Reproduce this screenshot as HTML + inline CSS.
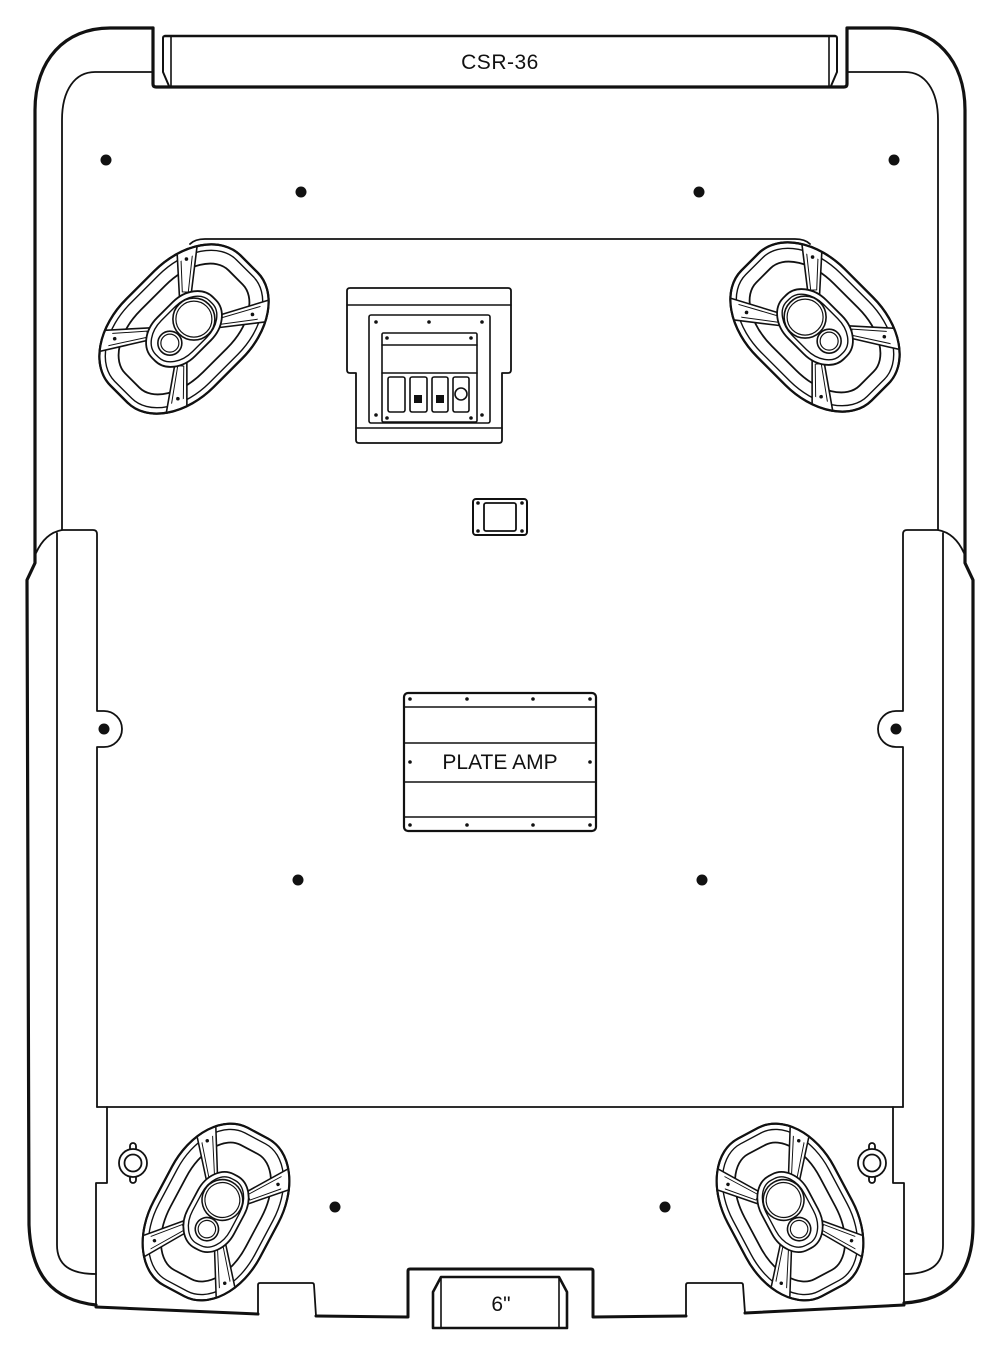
<!DOCTYPE html>
<html><head><meta charset="utf-8"><style>
html,body{margin:0;padding:0;background:#fff}
svg{display:block}
text{font-family:"Liberation Sans",sans-serif;fill:#111}
</style></head><body>
<svg width="1000" height="1355" viewBox="0 0 1000 1355" xmlns="http://www.w3.org/2000/svg">
<defs>
<clipPath id="co"><rect x="-91" y="-61" width="182" height="122" rx="71" ry="49"/></clipPath>
<clipPath id="ci"><rect x="-84" y="-54" width="168" height="108" rx="64" ry="42"/></clipPath>
</defs>
<g fill="none" stroke="#111" stroke-linejoin="round" stroke-linecap="round">
<path stroke-width="3.2" d="M153,28 L153,84 Q153,87 156,87 L844,87 Q847,87 847,84 L847,28 L890,28 C935,28 965,60 965,110 L965,563 L973,580 L973,1225 C973,1275 950,1300 904,1303"/>
<path stroke-width="3.2" d="M153,28 L110,28 C65,28 35,60 35,110 L35,563 L27,580 L29,1225 C31,1275 52,1300 96,1305"/>
<path stroke-width="1.8" d="M153,72 L95,72 C75,72 62,90 62,120 L62,530"/>
<path stroke-width="1.8" d="M847,72 L905,72 C925,72 938,90 938,120 L938,530"/>
<path stroke-width="2.6" d="M165,36 L835,36"/>
<path stroke-width="2" d="M171,36 L165,36 Q163,36 163,38 L163,72 L169,86"/>
<path stroke-width="2" d="M829,36 L835,36 Q837,36 837,38 L837,72 L831,86"/>
<path stroke-width="1.6" d="M171,36 L171,86 M829,36 L829,86"/>
<path stroke-width="1.8" d="M36,553 Q45,533 62,530 L93,530 Q97,530 97,534 L97,711 L104,711 A18,18 0 0 1 104,747 L97,747 L97,1107"/>
<path stroke-width="1.8" d="M964,553 Q955,533 938,530 L907,530 Q903,530 903,534 L903,711 L896,711 A18,18 0 0 0 896,747 L903,747 L903,1107"/>
<path stroke-width="1.8" d="M57,533 L57,1245 C57,1265 70,1274 96,1274"/>
<path stroke-width="1.8" d="M943,533 L943,1245 C943,1265 930,1274 904,1274"/>
<path stroke-width="1.8" d="M97,1107 L903,1107"/>
<path stroke-width="1.8" d="M107,1107 L107,1183 L96,1183 L96,1307"/>
<path stroke-width="1.8" d="M893,1107 L893,1183 L904,1183 L904,1303"/>
<path stroke-width="3" d="M96,1307 L258,1314 M316,1316 L408,1317 L408,1271 Q408,1269 410,1269 L591,1269 Q593,1269 593,1271 L593,1317 L686,1316 M745,1313 L904,1305"/>
<path stroke-width="1.8" d="M258,1314 L258,1285 Q258,1283 260,1283 L312,1283 Q314,1283 314,1285 L316,1316"/>
<path stroke-width="1.8" d="M686,1316 L686,1285 Q686,1283 688,1283 L741,1283 Q743,1283 743,1285 L745,1313"/>
<path stroke-width="2.6" d="M441,1277 L559,1277 L567,1292 L567,1328 L433,1328 L433,1292 Z"/>
<path stroke-width="1.6" d="M441,1277 L441,1328 M559,1277 L559,1328"/>
<path stroke-width="1.8" d="M190,244 Q195,239 205,239 L795,239 Q805,239 810,244"/>
<path stroke-width="1.8" fill="#fff" d="M350,288 L508,288 Q511,288 511,291 L511,370 Q511,373 508,373 L502,373 L502,440 Q502,443 499,443 L359,443 Q356,443 356,440 L356,373 L350,373 Q347,373 347,370 L347,291 Q347,288 350,288 Z"/>
<path stroke-width="1.6" d="M347,305 L511,305 M356,428 L502,428"/>
<rect x="369" y="315" width="121" height="108" rx="2" stroke-width="1.6"/>
<rect x="382" y="333" width="95" height="89" rx="1.5" stroke-width="1.6"/>
<path stroke-width="1.6" d="M382,345 L477,345 M382,373 L477,373"/>
<rect x="388" y="377" width="17" height="35" rx="2" stroke-width="1.6"/>
<rect x="410" y="377" width="17" height="35" rx="2" stroke-width="1.6"/>
<rect x="432" y="377" width="16" height="35" rx="2" stroke-width="1.6"/>
<rect x="453" y="377" width="16" height="35" rx="2" stroke-width="1.6"/>
<rect x="414" y="395" width="8" height="8" fill="#111" stroke="none"/>
<rect x="436" y="395" width="8" height="8" fill="#111" stroke="none"/>
<circle cx="461" cy="394" r="6" stroke-width="1.6"/>
<rect x="473" y="499" width="54" height="36" rx="3" stroke-width="2"/>
<rect x="484" y="503" width="32" height="28" rx="2" stroke-width="1.8"/>
<rect x="404" y="693" width="192" height="138" rx="4" stroke-width="2.2"/>
<path stroke-width="1.5" d="M404,707 L596,707 M404,743 L596,743 M404,782 L596,782 M404,817 L596,817"/>
</g>
<g fill="#111">
<circle cx="106" cy="160" r="5.5"/><circle cx="894" cy="160" r="5.5"/>
<circle cx="301" cy="192" r="5.5"/><circle cx="699" cy="192" r="5.5"/>
<circle cx="298" cy="880" r="5.5"/><circle cx="702" cy="880" r="5.5"/>
<circle cx="335" cy="1207" r="5.5"/><circle cx="665" cy="1207" r="5.5"/>
<circle cx="104" cy="729" r="5.5"/><circle cx="896" cy="729" r="5.5"/>
<circle cx="376" cy="322" r="1.8"/><circle cx="429" cy="322" r="1.8"/><circle cx="482" cy="322" r="1.8"/>
<circle cx="376" cy="415" r="1.8"/><circle cx="482" cy="415" r="1.8"/>
<circle cx="387" cy="338" r="1.8"/><circle cx="471" cy="338" r="1.8"/>
<circle cx="387" cy="418" r="1.8"/><circle cx="471" cy="418" r="1.8"/>
<circle cx="478" cy="503" r="1.8"/><circle cx="522" cy="503" r="1.8"/>
<circle cx="478" cy="531" r="1.8"/><circle cx="522" cy="531" r="1.8"/>
<circle cx="410" cy="699" r="1.8"/><circle cx="467" cy="699" r="1.8"/><circle cx="533" cy="699" r="1.8"/><circle cx="590" cy="699" r="1.8"/>
<circle cx="410" cy="825" r="1.8"/><circle cx="467" cy="825" r="1.8"/><circle cx="533" cy="825" r="1.8"/><circle cx="590" cy="825" r="1.8"/>
<circle cx="410" cy="762" r="1.8"/><circle cx="590" cy="762" r="1.8"/>
</g>
<g stroke="#111" stroke-width="1.8" fill="#fff">
<g transform="translate(133,1163)"><rect x="-3" y="-20" width="6" height="40" rx="3"/><circle r="14"/><circle r="8.5" fill="none"/></g>
<g transform="translate(872,1163)"><rect x="-3" y="-20" width="6" height="40" rx="3"/><circle r="14"/><circle r="8.5" fill="none"/></g>
</g>

<g stroke="#111" fill="none" stroke-linejoin="round">
<!-- TL -->
<g transform="translate(184,329) rotate(-45)">
<rect x="-92" y="-62" width="184" height="124" rx="72" ry="50" fill="#fff" stroke-width="2.2"/>
<rect x="-86" y="-56" width="172" height="112" rx="66" ry="44" stroke-width="1.4"/>
<rect x="-73" y="-44" width="146" height="88" rx="56" ry="34" stroke-width="1.8"/>
<g clip-path="url(#co)">
<path transform="rotate(-43)" d="M30,-5.5 L104,-12 L104,12 L30,5.5Z" fill="#fff" stroke-width="1.6"/>
<path transform="rotate(33)" d="M30,-5.5 L104,-12 L104,12 L30,5.5Z" fill="#fff" stroke-width="1.6"/>
<path transform="rotate(140)" d="M30,-5.5 L104,-12 L104,12 L30,5.5Z" fill="#fff" stroke-width="1.6"/>
<path transform="rotate(217)" d="M30,-5.5 L104,-12 L104,12 L30,5.5Z" fill="#fff" stroke-width="1.6"/>
</g>
<g clip-path="url(#ci)" stroke-width="1">
<path transform="rotate(-43)" d="M37,-3 L104,-8 L104,8 L37,3Z"/>
<path transform="rotate(33)" d="M37,-3 L104,-8 L104,8 L37,3Z"/>
<path transform="rotate(140)" d="M37,-3 L104,-8 L104,8 L37,3Z"/>
<path transform="rotate(217)" d="M37,-3 L104,-8 L104,8 L37,3Z"/>
</g>
<g fill="#111" stroke="none">
<circle transform="rotate(-43)" cx="70" r="1.8"/><circle transform="rotate(33)" cx="70" r="1.8"/>
<circle transform="rotate(140)" cx="70" r="1.8"/><circle transform="rotate(217)" cx="70" r="1.8"/>
</g>
<rect x="-92" y="-62" width="184" height="124" rx="72" ry="50" stroke-width="2.2"/>
<rect x="-43" y="-27" width="86" height="54" rx="32" ry="25" fill="#fff" stroke-width="1.8"/>
<rect x="-38" y="-22" width="76" height="44" rx="28" ry="20" stroke-width="1.4"/>
<circle cx="14" r="21" stroke-width="1.6"/><circle cx="14" r="18" stroke-width="1.2"/>
<circle cx="-20" r="12" stroke-width="1.6"/><circle cx="-20" r="9" stroke-width="1.2"/>
</g>
<!-- TR -->
<g transform="translate(815,327) rotate(45)">
<rect x="-92" y="-62" width="184" height="124" rx="72" ry="50" fill="#fff" stroke-width="2.2"/>
<rect x="-86" y="-56" width="172" height="112" rx="66" ry="44" stroke-width="1.4"/>
<rect x="-73" y="-44" width="146" height="88" rx="56" ry="34" stroke-width="1.8"/>
<g clip-path="url(#co)">
<path transform="rotate(-137)" d="M30,-5.5 L104,-12 L104,12 L30,5.5Z" fill="#fff" stroke-width="1.6"/>
<path transform="rotate(147)" d="M30,-5.5 L104,-12 L104,12 L30,5.5Z" fill="#fff" stroke-width="1.6"/>
<path transform="rotate(40)" d="M30,-5.5 L104,-12 L104,12 L30,5.5Z" fill="#fff" stroke-width="1.6"/>
<path transform="rotate(-37)" d="M30,-5.5 L104,-12 L104,12 L30,5.5Z" fill="#fff" stroke-width="1.6"/>
</g>
<g clip-path="url(#ci)" stroke-width="1">
<path transform="rotate(-137)" d="M37,-3 L104,-8 L104,8 L37,3Z"/>
<path transform="rotate(147)" d="M37,-3 L104,-8 L104,8 L37,3Z"/>
<path transform="rotate(40)" d="M37,-3 L104,-8 L104,8 L37,3Z"/>
<path transform="rotate(-37)" d="M37,-3 L104,-8 L104,8 L37,3Z"/>
</g>
<g fill="#111" stroke="none">
<circle transform="rotate(-137)" cx="70" r="1.8"/><circle transform="rotate(147)" cx="70" r="1.8"/>
<circle transform="rotate(40)" cx="70" r="1.8"/><circle transform="rotate(-37)" cx="70" r="1.8"/>
</g>
<rect x="-92" y="-62" width="184" height="124" rx="72" ry="50" stroke-width="2.2"/>
<rect x="-43" y="-27" width="86" height="54" rx="32" ry="25" fill="#fff" stroke-width="1.8"/>
<rect x="-38" y="-22" width="76" height="44" rx="28" ry="20" stroke-width="1.4"/>
<circle cx="-14" r="21" stroke-width="1.6"/><circle cx="-14" r="18" stroke-width="1.2"/>
<circle cx="20" r="12" stroke-width="1.6"/><circle cx="20" r="9" stroke-width="1.2"/>
</g>
<!-- BL -->
<g transform="translate(216,1212) rotate(-62) scale(0.97)">
<rect x="-92" y="-62" width="184" height="124" rx="72" ry="50" fill="#fff" stroke-width="2.2"/>
<rect x="-86" y="-56" width="172" height="112" rx="66" ry="44" stroke-width="1.4"/>
<rect x="-73" y="-44" width="146" height="88" rx="56" ry="34" stroke-width="1.8"/>
<g clip-path="url(#co)">
<path transform="rotate(-35)" d="M30,-5.5 L104,-12 L104,12 L30,5.5Z" fill="#fff" stroke-width="1.6"/>
<path transform="rotate(38)" d="M30,-5.5 L104,-12 L104,12 L30,5.5Z" fill="#fff" stroke-width="1.6"/>
<path transform="rotate(145)" d="M30,-5.5 L104,-12 L104,12 L30,5.5Z" fill="#fff" stroke-width="1.6"/>
<path transform="rotate(217)" d="M30,-5.5 L104,-12 L104,12 L30,5.5Z" fill="#fff" stroke-width="1.6"/>
</g>
<g clip-path="url(#ci)" stroke-width="1">
<path transform="rotate(-35)" d="M37,-3 L104,-8 L104,8 L37,3Z"/>
<path transform="rotate(38)" d="M37,-3 L104,-8 L104,8 L37,3Z"/>
<path transform="rotate(145)" d="M37,-3 L104,-8 L104,8 L37,3Z"/>
<path transform="rotate(217)" d="M37,-3 L104,-8 L104,8 L37,3Z"/>
</g>
<g fill="#111" stroke="none">
<circle transform="rotate(-35)" cx="74" r="1.8"/><circle transform="rotate(38)" cx="70" r="1.8"/>
<circle transform="rotate(145)" cx="74" r="1.8"/><circle transform="rotate(217)" cx="70" r="1.8"/>
</g>
<rect x="-92" y="-62" width="184" height="124" rx="72" ry="50" stroke-width="2.2"/>
<rect x="-43" y="-27" width="86" height="54" rx="32" ry="25" fill="#fff" stroke-width="1.8"/>
<rect x="-38" y="-22" width="76" height="44" rx="28" ry="20" stroke-width="1.4"/>
<circle cx="14" r="21" stroke-width="1.6"/><circle cx="14" r="18" stroke-width="1.2"/>
<circle cx="-20" r="12" stroke-width="1.6"/><circle cx="-20" r="9" stroke-width="1.2"/>
</g>
<!-- BR -->
<g transform="translate(790,1212) rotate(62) scale(0.97)">
<rect x="-92" y="-62" width="184" height="124" rx="72" ry="50" fill="#fff" stroke-width="2.2"/>
<rect x="-86" y="-56" width="172" height="112" rx="66" ry="44" stroke-width="1.4"/>
<rect x="-73" y="-44" width="146" height="88" rx="56" ry="34" stroke-width="1.8"/>
<g clip-path="url(#co)">
<path transform="rotate(-145)" d="M30,-5.5 L104,-12 L104,12 L30,5.5Z" fill="#fff" stroke-width="1.6"/>
<path transform="rotate(142)" d="M30,-5.5 L104,-12 L104,12 L30,5.5Z" fill="#fff" stroke-width="1.6"/>
<path transform="rotate(35)" d="M30,-5.5 L104,-12 L104,12 L30,5.5Z" fill="#fff" stroke-width="1.6"/>
<path transform="rotate(-37)" d="M30,-5.5 L104,-12 L104,12 L30,5.5Z" fill="#fff" stroke-width="1.6"/>
</g>
<g clip-path="url(#ci)" stroke-width="1">
<path transform="rotate(-145)" d="M37,-3 L104,-8 L104,8 L37,3Z"/>
<path transform="rotate(142)" d="M37,-3 L104,-8 L104,8 L37,3Z"/>
<path transform="rotate(35)" d="M37,-3 L104,-8 L104,8 L37,3Z"/>
<path transform="rotate(-37)" d="M37,-3 L104,-8 L104,8 L37,3Z"/>
</g>
<g fill="#111" stroke="none">
<circle transform="rotate(-145)" cx="74" r="1.8"/><circle transform="rotate(142)" cx="70" r="1.8"/>
<circle transform="rotate(35)" cx="74" r="1.8"/><circle transform="rotate(-37)" cx="70" r="1.8"/>
</g>
<rect x="-92" y="-62" width="184" height="124" rx="72" ry="50" stroke-width="2.2"/>
<rect x="-43" y="-27" width="86" height="54" rx="32" ry="25" fill="#fff" stroke-width="1.8"/>
<rect x="-38" y="-22" width="76" height="44" rx="28" ry="20" stroke-width="1.4"/>
<circle cx="-14" r="21" stroke-width="1.6"/><circle cx="-14" r="18" stroke-width="1.2"/>
<circle cx="20" r="12" stroke-width="1.6"/><circle cx="20" r="9" stroke-width="1.2"/>
</g>
</g>

<text x="500" y="69" font-size="21" text-anchor="middle" letter-spacing="0.5">CSR-36</text>
<text x="500" y="769" font-size="21" text-anchor="middle">PLATE AMP</text>
<text x="501" y="1311" font-size="21" text-anchor="middle">6"</text>
</svg>
</body></html>
